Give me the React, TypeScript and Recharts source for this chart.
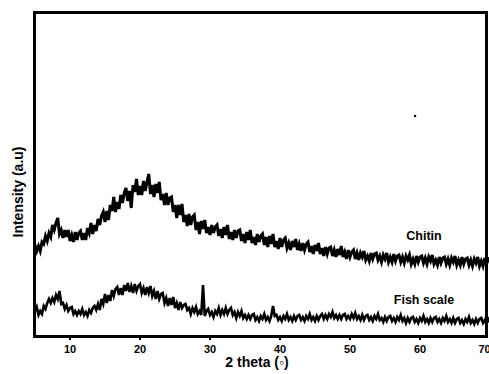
import { Line, LineChart, ReferenceDot, XAxis, YAxis } from "recharts";

// 2θ grid of the scan: 5° to 70°, 0.25° steps
const START = 5;
const STEP = 0.25;

// intensity (a.u.), one value per step
const chitin = [
  91, 85, 90, 85, 94, 92, 100, 95, 103, 99, 111, 106, 113, 118, 102, 106,
  98, 106, 99, 106, 95, 101, 94, 104, 96, 103, 105, 96, 103, 96, 108, 103,
  113, 102, 111, 105, 117, 111, 120, 124, 114, 125, 116, 131, 125, 139, 124, 134,
  127, 141, 133, 143, 148, 135, 145, 128, 151, 144, 157, 141, 150, 141, 155, 145,
  154, 162, 142, 151, 139, 152, 143, 154, 136, 142, 131, 143, 131, 138, 139, 124,
  131, 118, 131, 121, 132, 114, 121, 110, 122, 111, 119, 121, 106, 114, 102, 115,
  107, 116, 103, 109, 101, 111, 103, 109, 111, 100, 107, 98, 109, 101, 111, 97,
  104, 96, 106, 98, 105, 106, 95, 102, 93, 104, 96, 106, 93, 99, 91, 102,
  94, 100, 102, 91, 99, 89, 100, 92, 102, 89, 95, 87, 98, 89, 96, 98,
  88, 93, 86, 95, 89, 97, 86, 92, 85, 93, 86, 92, 94, 84, 90, 82,
  91, 85, 93, 82, 88, 80, 89, 82, 88, 89, 80, 86, 79, 87, 81, 90,
  79, 84, 77, 86, 79, 84, 86, 77, 83, 76, 83, 79, 85, 76, 80, 75,
  83, 77, 82, 83, 76, 80, 74, 81, 77, 83, 74, 79, 74, 82, 75, 80,
  81, 74, 79, 73, 80, 76, 81, 72, 77, 72, 80, 74, 79, 80, 73, 78,
  72, 79, 75, 81, 72, 76, 71, 79, 73, 78, 79, 72, 77, 71, 78, 74,
  80, 71, 76, 71, 79, 72, 77, 78, 71, 76, 70, 77, 73, 79, 70, 75,
  70, 78, 72, 77, 78,
];

const fishScale = [
  25, 29, 21, 25, 22, 30, 27, 33, 37, 33, 38, 34, 41, 37, 45, 32,
  33, 27, 31, 25, 28, 29, 22, 25, 21, 25, 22, 27, 21, 24, 20, 26,
  23, 28, 30, 26, 32, 26, 37, 32, 42, 33, 41, 35, 46, 40, 47, 49,
  41, 48, 41, 51, 45, 53, 44, 50, 43, 52, 45, 50, 52, 43, 48, 41,
  49, 43, 50, 40, 45, 37, 45, 37, 42, 43, 33, 38, 30, 38, 31, 39,
  28, 33, 26, 34, 28, 31, 32, 26, 28, 22, 28, 24, 29, 22, 25, 21,
  51, 20, 25, 27, 21, 24, 19, 25, 22, 28, 21, 26, 22, 28, 22, 26,
  28, 21, 24, 18, 24, 20, 25, 18, 21, 17, 21, 17, 21, 22, 16, 19,
  15, 20, 17, 22, 16, 19, 15, 20, 30, 20, 21, 16, 19, 15, 20, 17,
  22, 16, 19, 15, 20, 16, 20, 21, 16, 19, 15, 20, 17, 22, 16, 19,
  15, 20, 16, 20, 22, 17, 21, 17, 22, 19, 24, 18, 21, 17, 21, 17,
  21, 22, 17, 20, 17, 22, 18, 23, 17, 20, 16, 21, 16, 20, 21, 16,
  19, 15, 20, 17, 22, 16, 18, 14, 19, 15, 19, 20, 15, 18, 14, 19,
  16, 21, 15, 18, 13, 18, 14, 18, 19, 14, 17, 13, 18, 15, 20, 14,
  17, 13, 18, 14, 18, 19, 14, 17, 13, 18, 15, 20, 14, 17, 13, 18,
  13, 17, 18, 13, 16, 12, 17, 14, 19, 13, 16, 12, 17, 13, 17, 18,
  13, 16, 12, 17, 14,
];

const xTicks = [10, 20, 30, 40, 50, 60, 70];
const yTicks = [11, 61, 111, 161, 211, 261, 311];

const data = chitin.map((c, i) => ({
  theta: START + i * STEP,
  chitin: c,
  fishScale: fishScale[i],
}));

const FONT = '"Liberation Sans", Arial, Helvetica, sans-serif';

export default function App() {
  return (
    <div
      style={{
        position: "fixed",
        left: 0,
        top: 0,
        width: 489,
        height: 374,
        overflow: "hidden",
        background: "#fff",
        fontFamily: FONT,
      }}
    >
      <LineChart width={490} height={374} data={data} margin={{ top: 12, right: 0, bottom: 0, left: 35 }}>
        <XAxis
          dataKey="theta"
          type="number"
          domain={[5, 70]}
          ticks={xTicks}
          height={38}
          axisLine={false}
          tickLine={{ stroke: "#000", strokeWidth: 2 }}
          tickSize={4}
          tickMargin={5}
          tick={{ fill: "#000", fontSize: 11, fontWeight: "bold", fontFamily: FONT }}
        />
        <YAxis
          type="number"
          domain={[0, 324]}
          ticks={yTicks}
          mirror
          width={0}
          axisLine={false}
          tickLine={{ stroke: "#000", strokeWidth: 1.5 }}
          tickSize={4}
          tickFormatter={() => ""}
        />
        <Line
          dataKey="chitin"
          type="linear"
          stroke="#000"
          strokeWidth={3}
          strokeLinejoin="miter"
          dot={false}
          isAnimationActive={false}
        />
        <Line
          dataKey="fishScale"
          type="linear"
          stroke="#000"
          strokeWidth={2.6}
          strokeLinejoin="miter"
          dot={false}
          isAnimationActive={false}
        />
        <ReferenceDot x={59.3} y={220} r={1.2} fill="#000" stroke="none" />
      </LineChart>

      {/* plot frame */}
      <div
        style={{
          position: "absolute",
          left: 33,
          top: 10.5,
          width: 455,
          height: 327,
          border: "3px solid #000",
          boxSizing: "border-box",
          pointerEvents: "none",
        }}
      />

      <div style={{ position: "absolute", left: 257, top: 362, transform: "translate(-50%, -50%)", fontSize: 14, fontWeight: "bold", whiteSpace: "nowrap" }}>
        2 theta (◦)
      </div>
      <div style={{ position: "absolute", left: 18, top: 192, transform: "translate(-50%, -50%) rotate(-90deg)", fontSize: 14, fontWeight: "bold", whiteSpace: "nowrap" }}>
        Intensity (a.u)
      </div>
      <div style={{ position: "absolute", left: 424, top: 236, transform: "translate(-50%, -50%)", fontSize: 12.5, fontWeight: "bold", whiteSpace: "nowrap" }}>
        Chitin
      </div>
      <div style={{ position: "absolute", left: 424, top: 300, transform: "translate(-50%, -50%)", fontSize: 12.5, fontWeight: "bold", whiteSpace: "nowrap" }}>
        Fish scale
      </div>
    </div>
  );
}
